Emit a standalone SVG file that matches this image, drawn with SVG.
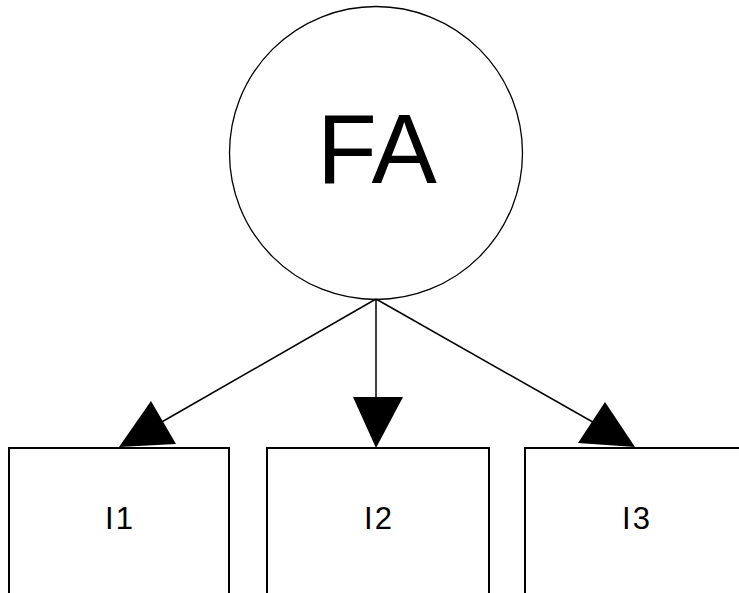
<svg xmlns="http://www.w3.org/2000/svg" width="739" height="593" viewBox="0 0 739 593">
<style>
.box{fill:#fff;stroke:#000;stroke-width:2}
.lbl{font-family:"Liberation Sans",Arial,sans-serif;font-size:31px;text-anchor:middle;fill:#000;letter-spacing:2px}
.edge{stroke:#000;stroke-width:1.5;fill:none}
.head{fill:#000;stroke:none}
</style>
<rect width="739" height="593" fill="#fff"/>
<g id="FA">
<circle cx="376" cy="153" r="146.5" fill="#fff" stroke="#000" stroke-width="1.3"/>
<text x="377" y="183" font-family="Liberation Sans,Arial,sans-serif" font-size="98" text-anchor="middle">FA</text>
</g>
<g id="I1">
<rect class="box" x="9" y="448" width="220" height="160"/>
<text class="lbl" x="120" y="529">I1</text>
</g>
<g id="I2">
<rect class="box" x="267" y="448" width="222" height="160"/>
<text class="lbl" x="379" y="529">I2</text>
</g>
<g id="I3">
<rect class="box" x="525" y="448" width="230" height="160"/>
<text class="lbl" x="637" y="529">I3</text>
</g>
<g id="connectors">
<line class="edge" x1="376" y1="299" x2="160" y2="423"/>
<polygon class="head" points="151,401 119,447 176,444"/>
<line class="edge" x1="376" y1="299" x2="376" y2="400"/>
<polygon class="head" points="353,397 403,397 376,448"/>
<line class="edge" x1="376" y1="299" x2="598" y2="425"/>
<polygon class="head" points="605,402 578,443 635,447"/>
</g>
</svg>
